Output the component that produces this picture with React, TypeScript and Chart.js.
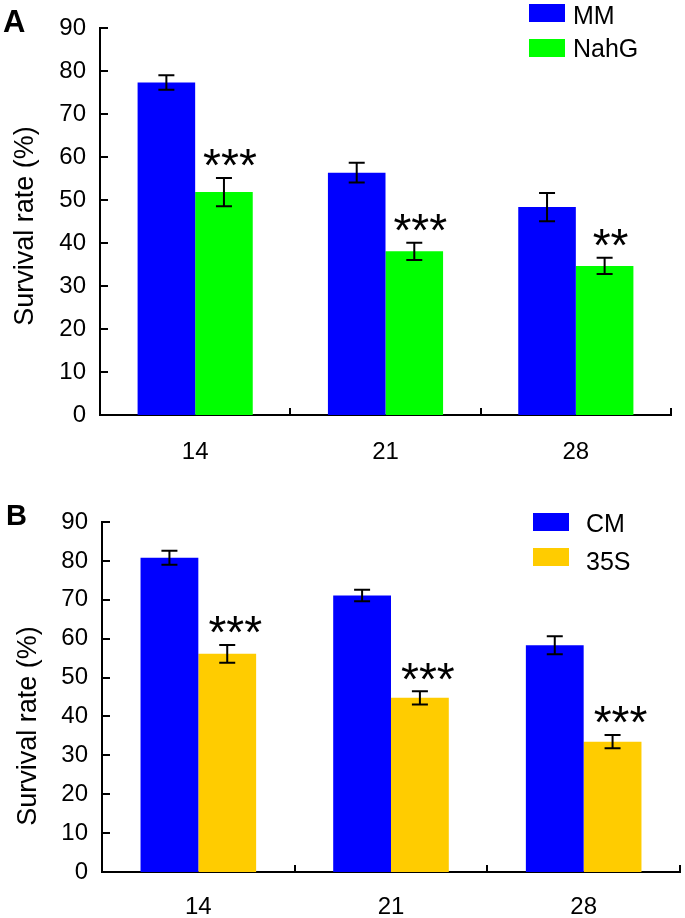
import React, { useEffect, useRef } from 'react';
import { Chart, registerables } from 'chart.js';

Chart.register(...registerables);

const FONT = '"Liberation Sans", Arial, Helvetica, sans-serif';

// ---- shared axis data ----
const days = ['14', '21', '28'];
const yMin = 0;
const yMax = 90;
const yStep = 10;
const yTitle = 'Survival rate (%)';

// ---- panel A ----
const namesA = ['MM', 'NahG'];
const colorsA = ['#0000FF', '#00FF00'];
const mmValues = [77.4, 56.4, 48.4];
const mmErrors = [1.7, 2.3, 3.3];
const nahgValues = [51.9, 38.1, 34.7];
const nahgErrors = [3.3, 2.0, 1.9];
const sigA = ['***', '***', '**'];

// ---- panel B ----
const namesB = ['CM', '35S'];
const colorsB = ['#0000FF', '#FFCC00'];
const cmValues = [80.8, 71.1, 58.3];
const cmErrors = [1.8, 1.5, 2.3];
const s35Values = [56.1, 44.8, 33.5];
const s35Errors = [2.3, 1.7, 1.7];
const sigB = ['***', '***', '***'];

type Geo = {
  height: number;
  padRight: number;
  padTop: number;
  yAxisWidth: number;
  xAxisHeight: number;
  xLabelPad: number;
  catPct: number;
  letter: string;
  letterX: number;
  letterY: number;
  letterSize: number;
  titleX: number;
  titleY: number;
  legBoxX: number;
  legTextX: number;
  legBoxY: number[];
  legBaseY: number[];
  starDx: number;
};

type PanelProps = {
  names: string[];
  colors: string[];
  values: number[][];
  errors: number[][];
  sig: string[];
  geo: Geo;
};

function Panel({ names, colors, values, errors, sig, geo }: PanelProps) {
  const ref = useRef<HTMLCanvasElement | null>(null);

  useEffect(() => {
    if (!ref.current) return;
    const STAR_SIZE = 46;
    const overlay = {
      id: 'overlay',
      afterDatasetsDraw(chart: any) {
        const ctx = chart.ctx as CanvasRenderingContext2D;
        const xs = chart.scales.x;
        const ys = chart.scales.y;
        const area = chart.chartArea;
        ctx.save();
        ctx.strokeStyle = '#000';
        ctx.lineWidth = 2;
        // error bars
        values.forEach((_, di) => {
          const meta = chart.getDatasetMeta(di);
          meta.data.forEach((bar: any, i: number) => {
            const v = values[di][i];
            const e = errors[di][i];
            const top = ys.getPixelForValue(v + e);
            const bot = ys.getPixelForValue(v - e);
            ctx.beginPath();
            ctx.moveTo(bar.x, top);
            ctx.lineTo(bar.x, bot);
            ctx.moveTo(bar.x - 8, top);
            ctx.lineTo(bar.x + 8, top);
            ctx.moveTo(bar.x - 8, bot);
            ctx.lineTo(bar.x + 8, bot);
            ctx.stroke();
          });
        });
        // significance stars above second series
        const meta2 = chart.getDatasetMeta(1);
        ctx.fillStyle = '#000';
        ctx.font = `${STAR_SIZE}px ${FONT}`;
        ctx.textAlign = 'center';
        ctx.textBaseline = 'alphabetic';
        meta2.data.forEach((bar: any, i: number) => {
          const top = ys.getPixelForValue(values[1][i] + errors[1][i]);
          const cy = top - 23;
          ctx.fillText(sig[i], bar.x + geo.starDx, cy + 0.573 * STAR_SIZE);
        });
        // inner y ticks
        ctx.beginPath();
        for (let v = yMin; v <= yMax; v += yStep) {
          const py = Math.round(ys.getPixelForValue(v));
          ctx.moveTo(area.left, py);
          ctx.lineTo(area.left + 8, py);
        }
        // inner x ticks at category boundaries
        const step = xs.getPixelForValue(1) - xs.getPixelForValue(0);
        for (let i = 0; i < days.length; i++) {
          const px = Math.round(xs.getPixelForValue(i) + step / 2);
          ctx.moveTo(px, area.bottom);
          ctx.lineTo(px, area.bottom - 7);
        }
        ctx.stroke();
        ctx.restore();
      },
      afterDraw(chart: any) {
        const ctx = chart.ctx as CanvasRenderingContext2D;
        ctx.save();
        // panel letter
        ctx.fillStyle = '#000';
        ctx.font = `bold ${geo.letterSize}px ${FONT}`;
        ctx.textAlign = 'left';
        ctx.textBaseline = 'alphabetic';
        ctx.fillText(geo.letter, geo.letterX, geo.letterY);
        // y title
        ctx.save();
        ctx.translate(geo.titleX, geo.titleY);
        ctx.rotate(-Math.PI / 2);
        ctx.font = `27px ${FONT}`;
        ctx.textAlign = 'center';
        ctx.fillText(yTitle, 0, 0);
        ctx.restore();
        // legend
        ctx.font = `25px ${FONT}`;
        ctx.textAlign = 'left';
        names.forEach((n, i) => {
          ctx.fillStyle = colors[i];
          ctx.fillRect(geo.legBoxX, geo.legBoxY[i], 36, 18);
          ctx.fillStyle = '#000';
          ctx.fillText(n, geo.legTextX, geo.legBaseY[i]);
        });
        ctx.restore();
      },
    };

    const chart = new Chart(ref.current, {
      type: 'bar',
      data: {
        labels: days,
        datasets: names.map((n, i) => ({
          label: n,
          data: values[i],
          backgroundColor: colors[i],
          borderWidth: 0,
          categoryPercentage: geo.catPct,
          barPercentage: 1,
        })),
      },
      options: {
        responsive: false,
        maintainAspectRatio: false,
        animation: false,
        layout: { padding: { left: 0, right: geo.padRight, top: geo.padTop, bottom: 0 } },
        plugins: { legend: { display: false }, tooltip: { enabled: false } },
        scales: {
          x: {
            type: 'category',
            offset: true,
            grid: { display: false, drawTicks: false },
            border: { display: true, color: '#000', width: 2 },
            ticks: {
              color: '#000',
              font: { family: FONT, size: 24 },
              padding: geo.xLabelPad,
              maxRotation: 0,
              autoSkip: false,
            },
            afterFit: (s: any) => {
              s.height = geo.xAxisHeight;
            },
          },
          y: {
            type: 'linear',
            min: yMin,
            max: yMax,
            grid: { display: false, drawTicks: false },
            border: { display: true, color: '#000', width: 2 },
            ticks: {
              stepSize: yStep,
              color: '#000',
              font: { family: FONT, size: 24 },
              padding: 14,
            },
            afterFit: (s: any) => {
              s.width = geo.yAxisWidth;
            },
          },
        },
      },
      plugins: [overlay],
    } as any);
    return () => chart.destroy();
  }, []);

  return <canvas ref={ref} width={685} height={geo.height} style={{ display: 'block' }} />;
}

const geoA: Geo = {
  height: 460,
  padRight: 14,
  padTop: 23,
  yAxisWidth: 100,
  xAxisHeight: 45,
  xLabelPad: 23,
  catPct: 0.605,
  letter: 'A',
  letterX: 3,
  letterY: 32,
  letterSize: 31,
  titleX: 33,
  titleY: 226,
  legBoxX: 529,
  legTextX: 573,
  legBoxY: [4, 39],
  legBaseY: [24, 57],
  starDx: 6,
};

const geoB: Geo = {
  height: 458,
  padRight: 5,
  padTop: 62,
  yAxisWidth: 102,
  xAxisHeight: 46,
  xLabelPad: 21,
  catPct: 0.6,
  letter: 'B',
  letterX: 6,
  letterY: 65,
  letterSize: 29,
  titleX: 36,
  titleY: 266,
  legBoxX: 533,
  legTextX: 586,
  legBoxY: [53, 88],
  legBaseY: [72, 110],
  starDx: 8,
};

export default function App() {
  return (
    <div style={{ position: 'absolute', left: 0, top: 0, width: 685, height: 918, background: '#fff' }}>
      <Panel
        names={namesA}
        colors={colorsA}
        values={[mmValues, nahgValues]}
        errors={[mmErrors, nahgErrors]}
        sig={sigA}
        geo={geoA}
      />
      <Panel
        names={namesB}
        colors={colorsB}
        values={[cmValues, s35Values]}
        errors={[cmErrors, s35Errors]}
        sig={sigB}
        geo={geoB}
      />
    </div>
  );
}
